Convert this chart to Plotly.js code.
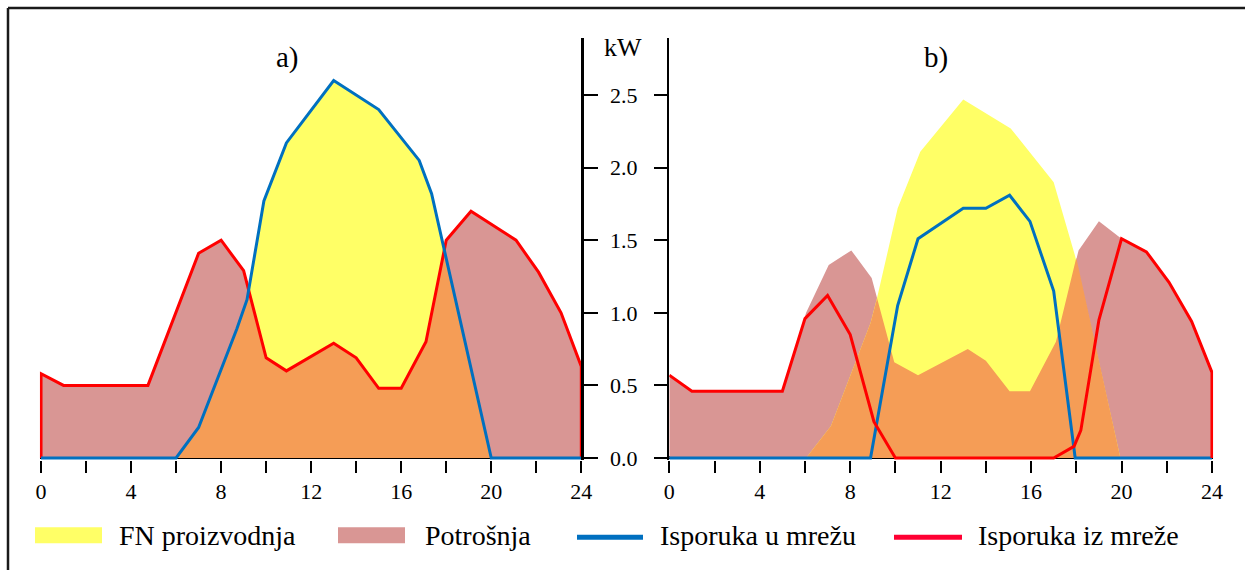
<!DOCTYPE html>
<html>
<head>
<meta charset="utf-8">
<script src="https://cdn.plot.ly/plotly-3.0.1.min.js"></script>
<style>html,body{margin:0;padding:0;background:#fff;}#chart{width:1245px;height:570px;}</style>
</head>
<body>
<div id="chart"></div>
<script>
// ---------- data ----------
const hourTicks = [0, 2, 4, 6, 8, 10, 12, 14, 16, 18, 20, 22, 24];
const hourTickText = ['0', '', '4', '', '8', '', '12', '', '16', '', '20', '', '24'];
const kwTicks = [0, 0.5, 1.0, 1.5, 2.0, 2.5];

const legendNames = ['FN proizvodnja', 'Potrošnja', 'Isporuka u mrežu', 'Isporuka iz mreže'];
const panelTitles = ['a)', 'b)'];
const unitLabel = 'kW';

// panel a)
const pvA_x = [0, 6, 7, 8.7, 9.15, 9.9, 10.9, 13, 15, 16.8, 17.35, 20, 24];
const pvA_y = [0, 0, 0.21, 0.89, 1.09, 1.77, 2.17, 2.60, 2.40, 2.05, 1.82, 0, 0];
const loadA_x = [0, 0, 1, 4.75, 7, 8, 9, 10, 10.9, 13, 14, 15, 16, 17.1, 18, 19.1, 21.1, 22.1, 23.1, 24, 24];
const loadA_y = [0, 0.58, 0.5, 0.5, 1.41, 1.5, 1.29, 0.69, 0.60, 0.79, 0.69, 0.48, 0.48, 0.80, 1.50, 1.70, 1.50, 1.28, 1.00, 0.63, 0];
const overlapA_x = [6, 7, 8.7, 9.15, 9.22, 10, 10.9, 13, 14, 15, 16, 17.1, 17.91, 20];
const overlapA_y = [0, 0.21, 0.89, 1.09, 1.16, 0.69, 0.60, 0.79, 0.69, 0.48, 0.48, 0.80, 1.43, 0];

// panel b)
const pvB_x = [6.05, 7.15, 8.9, 9.2, 10.1, 11.1, 13, 15.1, 17, 17.95, 19.95];
const pvB_y = [0, 0.22, 0.93, 1.11, 1.72, 2.11, 2.47, 2.27, 1.90, 1.39, 0];
const loadB_x = [0, 1, 5, 6.05, 7.05, 8.05, 8.95, 9.95, 11, 13.2, 14, 15.05, 15.95, 17.1, 18.1, 19, 20, 21.1, 22.1, 23.1, 24, 24];
const loadB_y = [0.57, 0.46, 0.46, 1.0, 1.33, 1.43, 1.24, 0.66, 0.57, 0.75, 0.67, 0.46, 0.46, 0.80, 1.43, 1.63, 1.51, 1.42, 1.21, 0.94, 0.59, 0];
const overlapB_x = [6.05, 7.15, 8.9, 9.19, 9.95, 11, 13.2, 14, 15.05, 15.95, 17.1, 18.0, 19.95];
const overlapB_y = [0, 0.22, 0.93, 1.10, 0.66, 0.57, 0.75, 0.67, 0.46, 0.46, 0.80, 1.38, 0];
const exportB_x = [0, 8.9, 10.1, 11, 13, 14, 15.05, 15.95, 17, 17.95, 24];
const exportB_y = [0, 0, 1.05, 1.51, 1.72, 1.72, 1.81, 1.63, 1.15, 0, 0];
const importB_x = [0, 1, 5, 6, 7, 8, 9.05, 10, 17, 17.9, 18.2, 19, 20, 21.1, 22.1, 23.1, 24, 24];
const importB_y = [0.57, 0.46, 0.46, 0.96, 1.12, 0.85, 0.25, 0, 0, 0.08, 0.19, 0.95, 1.51, 1.42, 1.21, 0.94, 0.59, 0];

// ---------- styling ----------
const W = 1245, H = 570;
const C_PV = '#FFFF66', C_LOAD = '#D99694', C_OVER = '#F59D56';
const C_BLUE = '#0070C0', C_RED = '#FF0000', C_RED_LEG = '#FF0033';
const FONT = 'Liberation Serif';

const plotTop = 38, plotBottom = 459.73;
const PH = plotBottom - plotTop;
const px2x = p => p / W;
const py2y = p => (plotBottom - p) / PH;

function fillTrace(x, y, color, xa, ya) {
  return {x: x, y: y, type: 'scatter', mode: 'lines', fill: 'tozeroy', fillcolor: color,
    line: {width: 0, color: color}, xaxis: xa, yaxis: ya, showlegend: false, hoverinfo: 'skip'};
}
function lineTrace(x, y, color, xa, ya, name) {
  return {x: x, y: y, type: 'scatter', mode: 'lines', name: name,
    line: {width: 3, color: color}, xaxis: xa, yaxis: ya, showlegend: false};
}

const traces = [
  fillTrace(loadA_x, loadA_y, C_LOAD, 'x', 'y'),
  fillTrace(pvA_x, pvA_y, C_PV, 'x', 'y'),
  fillTrace(overlapA_x, overlapA_y, C_OVER, 'x', 'y'),
  lineTrace(loadA_x, loadA_y, C_RED, 'x', 'y', legendNames[3]),
  lineTrace(pvA_x, pvA_y, C_BLUE, 'x', 'y', legendNames[2]),

  fillTrace(loadB_x, loadB_y, C_LOAD, 'x2', 'y2'),
  fillTrace(pvB_x, pvB_y, C_PV, 'x2', 'y2'),
  fillTrace(overlapB_x, overlapB_y, C_OVER, 'x2', 'y2'),
  lineTrace(exportB_x, exportB_y, C_BLUE, 'x2', 'y2', legendNames[2]),
  lineTrace(importB_x, importB_y, C_RED, 'x2', 'y2', legendNames[3])
];

const yRange = [-0.014, 2.893];
function xAxis(domain, range, anchor) {
  return {domain: domain, range: range, anchor: anchor, showgrid: false, zeroline: false,
    showline: false, ticks: 'outside', ticklen: 12, tickwidth: 2, tickcolor: '#000',
    tickvals: hourTicks, ticktext: hourTickText, ticklabelstandoff: 0,
    tickfont: {family: FONT, size: 22, color: '#000'}, fixedrange: true};
}
function yAxis(side, anchor, labels, ticklen) {
  return {range: yRange, anchor: anchor, side: side, showgrid: false,
    zeroline: true, zerolinecolor: '#000', zerolinewidth: 3,
    showline: true, linecolor: '#000', linewidth: 2.5,
    ticks: 'outside', ticklen: ticklen, tickwidth: 2, tickcolor: '#000',
    tickvals: kwTicks, tickformat: '.1f', showticklabels: labels, ticklabelstandoff: 12,
    tickfont: {family: FONT, size: 22, color: '#000'}, fixedrange: true};
}

const shapes = [
  // outer frame (top and left edges)
  {type: 'line', xref: 'paper', yref: 'paper', x0: px2x(8), x1: px2x(W + 5), y0: py2y(8), y1: py2y(8), line: {color: '#1a1a1a', width: 2.5}},
  {type: 'line', xref: 'paper', yref: 'paper', x0: px2x(8), x1: px2x(8), y0: py2y(8), y1: py2y(H + 5), line: {color: '#1a1a1a', width: 2.5}},
  // legend symbols
  {type: 'rect', xref: 'paper', yref: 'paper', x0: px2x(35), x1: px2x(102), y0: py2y(527), y1: py2y(543), fillcolor: C_PV, line: {width: 0}},
  {type: 'rect', xref: 'paper', yref: 'paper', x0: px2x(338), x1: px2x(405), y0: py2y(527), y1: py2y(543), fillcolor: C_LOAD, line: {width: 0}},
  {type: 'line', xref: 'paper', yref: 'paper', x0: px2x(577), x1: px2x(643), y0: py2y(537), y1: py2y(537), line: {color: C_BLUE, width: 5}},
  {type: 'line', xref: 'paper', yref: 'paper', x0: px2x(894), x1: px2x(962), y0: py2y(537), y1: py2y(537), line: {color: C_RED_LEG, width: 5}}
];

const legFont = {family: FONT, size: 28, color: '#000'};
const annotations = [
  {text: panelTitles[0], xref: 'paper', yref: 'paper', x: px2x(287), y: py2y(57), xanchor: 'center', yanchor: 'middle', showarrow: false, font: {family: FONT, size: 29, color: '#000'}},
  {text: panelTitles[1], xref: 'paper', yref: 'paper', x: px2x(936), y: py2y(57), xanchor: 'center', yanchor: 'middle', showarrow: false, font: {family: FONT, size: 29, color: '#000'}},
  {text: unitLabel, xref: 'paper', yref: 'paper', x: px2x(623), y: py2y(47), xanchor: 'center', yanchor: 'middle', showarrow: false, font: {family: FONT, size: 26, color: '#000'}},
  {text: legendNames[0], xref: 'paper', yref: 'paper', x: px2x(117), y: py2y(535), xanchor: 'left', yanchor: 'middle', showarrow: false, font: legFont},
  {text: legendNames[1], xref: 'paper', yref: 'paper', x: px2x(423), y: py2y(535), xanchor: 'left', yanchor: 'middle', showarrow: false, font: legFont},
  {text: legendNames[2], xref: 'paper', yref: 'paper', x: px2x(658), y: py2y(535), xanchor: 'left', yanchor: 'middle', showarrow: false, font: legFont},
  {text: legendNames[3], xref: 'paper', yref: 'paper', x: px2x(976), y: py2y(535), xanchor: 'left', yanchor: 'middle', showarrow: false, font: legFont}
];

const layout = {
  width: W, height: H,
  margin: {l: 0, r: 0, t: plotTop, b: H - plotBottom, pad: 0},
  paper_bgcolor: '#fff', plot_bgcolor: 'rgba(0,0,0,0)',
  showlegend: false,
  font: {family: FONT, color: '#000'},
  xaxis: xAxis([px2x(39.9), px2x(581.3)], [-0.05, 24], 'y'),
  xaxis2: xAxis([px2x(669.3), px2x(1213.1)], [0, 24.05], 'y2'),
  yaxis: yAxis('right', 'x', false, 14),
  yaxis2: yAxis('left', 'x2', true, 13),
  shapes: shapes,
  annotations: annotations
};

Plotly.newPlot('chart', traces, layout, {displayModeBar: false, staticPlot: true});
</script>
</body>
</html>
